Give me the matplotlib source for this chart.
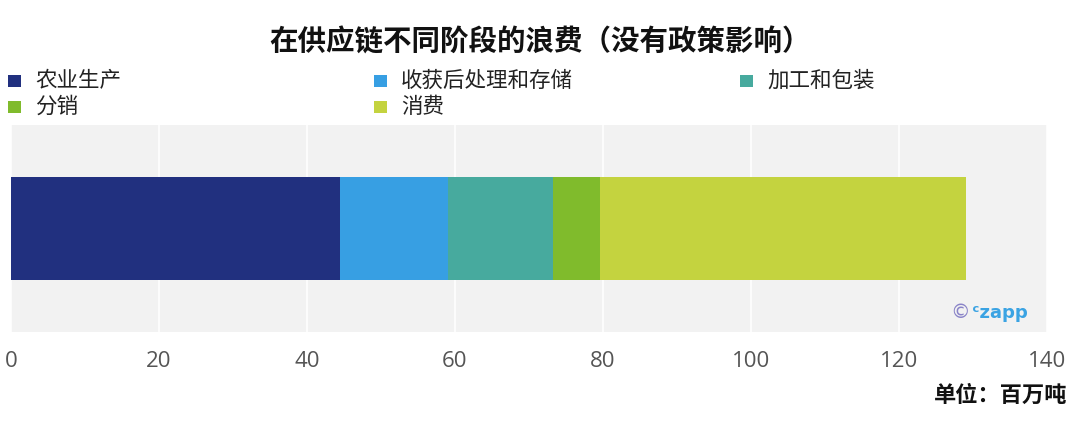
import matplotlib
matplotlib.use("Agg")
import matplotlib.pyplot as plt
from matplotlib.patches import Rectangle

plt.rcParams['font.family'] = ['Noto Sans CJK SC', 'DejaVu Sans']

# --- data ---
stages = ["农业生产", "收获后处理和存储", "加工和包装", "分销", "消费"]
waste = [44.5, 14.5, 14.2, 6.4, 49.4]
colors = ["#21307f", "#379fe3", "#47aa9e", "#80bb2c", "#c4d33f"]
x_ticks = [0, 20, 40, 60, 80, 100, 120, 140]
title = "在供应链不同阶段的浪费（没有政策影响）"
unit_label = "单位：百万吨"

fig = plt.figure(figsize=(10.8, 4.32), dpi=100)
ax = fig.add_axes([11 / 1080, 1 - 332 / 432, 1036 / 1080, 207 / 432])
ax.set_facecolor("#f2f2f2")

# --- stacked bar ---
left = 0
for val, col in zip(waste, colors):
    ax.barh(0, val, left=left, height=0.5, color=col, edgecolor="none", zorder=3)
    left += val

ax.set_xlim(0, 140)
ax.set_ylim(-0.5, 0.5)
ax.set_xticks(x_ticks)
ax.set_xticklabels([str(t) for t in x_ticks], family=["Open Sans", "DejaVu Sans"],
                   fontsize=16, color="#555555")
ax.tick_params(axis="x", length=0, pad=14)
ax.set_yticks([])
ax.grid(axis="x", color="white", linewidth=1.2, zorder=1)
for s in ax.spines.values():
    s.set_visible(False)

# watermark
fig.text(950 / 1080, 1 - 313 / 432, "©", fontsize=14, color="#8a84c8",
         ha="left", va="center", family=["DejaVu Sans"])
fig.text(972 / 1080, 1 - 313 / 432, "ᶜzapp", fontsize=13, color="#3aa3e3",
         ha="left", va="center", weight="bold", family=["DejaVu Sans"])

# --- title ---
fig.text(0.5, 1 - 42 / 432, title, ha="center", va="center", fontsize=20.5,
         weight="bold", color="#111111")

# --- legend (row-major, 3 columns) ---
col_x = [8, 374, 740]
row_y = [81, 107]
for i, (lab, col) in enumerate(zip(stages, colors)):
    cx = col_x[i % 3]
    cy = row_y[i // 3]
    fig.patches.append(Rectangle((cx / 1080, 1 - (cy + 6) / 432), 13 / 1080, 12 / 432,
                                 transform=fig.transFigure, facecolor=col,
                                 edgecolor="none"))
    fig.text((cx + 27) / 1080, 1 - cy / 432, lab, ha="left", va="center",
             fontsize=15.5, color="#222222")

# --- unit label ---
fig.text(1067 / 1080, 1 - 395 / 432, unit_label, ha="right", va="center",
         fontsize=16, weight="bold", color="#111111")

fig.savefig("out.png", dpi=100)
